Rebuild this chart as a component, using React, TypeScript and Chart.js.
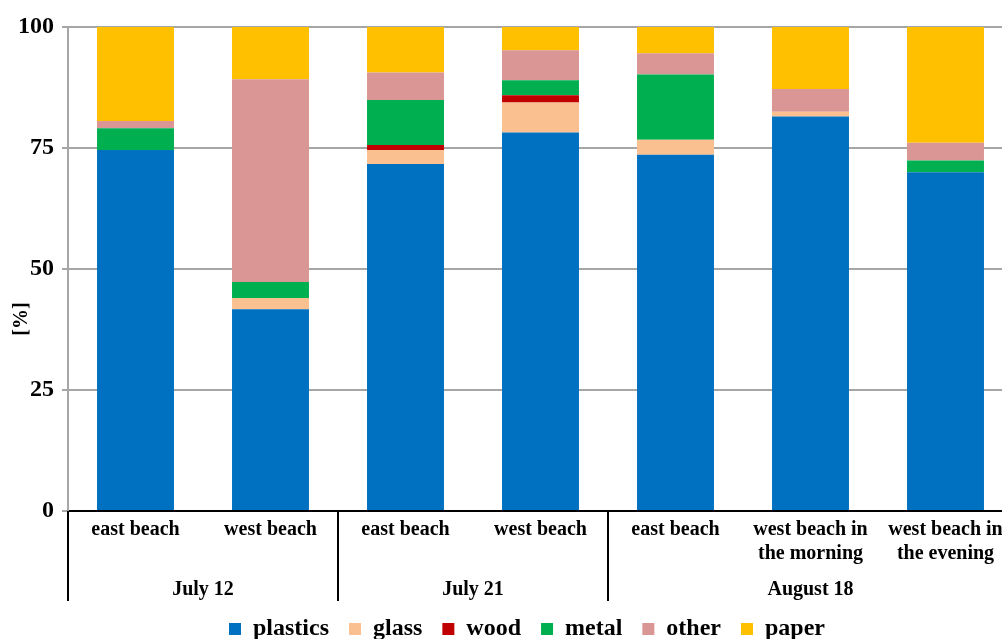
import React, { useEffect, useRef } from "react";
import { Chart, registerables } from "chart.js";
Chart.register(...registerables);

const categories: string[][] = [
  ["east beach"],
  ["west beach"],
  ["east beach"],
  ["west beach"],
  ["east beach"],
  ["west beach in", "the morning"],
  ["west beach in", "the evening"],
];
const groupLabels = ["July 12", "July 21", "August 18"];
const groupSizes = [2, 2, 3];
const seriesNames = ["plastics", "glass", "wood", "metal", "other", "paper"];
const plastics = [74.6, 41.7, 71.7, 78.2, 73.6, 81.5, 70.0];
const glass = [0, 2.3, 2.9, 6.2, 3.1, 1.0, 0];
const wood = [0, 0, 1.0, 1.5, 0, 0, 0];
const metal = [4.5, 3.3, 9.3, 3.1, 13.5, 0, 2.4];
const other = [1.5, 41.9, 5.7, 6.2, 4.4, 4.7, 3.7];
const paper = [19.4, 10.8, 9.4, 4.8, 5.4, 12.8, 23.9];
const yTicks = [0, 25, 50, 75, 100];
const yTitle = "[%]";

const colors = ["#0070C0", "#FAC090", "#C00000", "#00B050", "#D99694", "#FFC000"];
const FONT = '"Liberation Serif", "Times New Roman", serif';

const W = 1054;
const H = 651;

export default function App() {
  const ref = useRef<HTMLCanvasElement | null>(null);
  useEffect(() => {
    const canvas = ref.current;
    if (!canvas) return;
    const values = [plastics, glass, wood, metal, other, paper];
    const groupPlugin = {
      id: "groups",
      afterDraw(chart: any) {
        const ctx = chart.ctx;
        const xs = chart.scales.x;
        const area = chart.chartArea;
        const n = categories.length;
        const cw = (xs.right - xs.left) / n;
        ctx.save();
        ctx.strokeStyle = "#000";
        ctx.lineWidth = 2;
        let idx = 0;
        const edges: number[] = [xs.left];
        groupSizes.forEach((s) => {
          idx += s;
          edges.push(xs.left + idx * cw);
        });
        edges.forEach((ex) => {
          ctx.beginPath();
          ctx.moveTo(ex, area.bottom);
          ctx.lineTo(ex, 601);
          ctx.stroke();
        });
        ctx.fillStyle = "#000";
        ctx.font = `bold 20px ${FONT}`;
        ctx.textAlign = "center";
        ctx.textBaseline = "middle";
        groupLabels.forEach((g, i) => {
          ctx.fillText(g, (edges[i] + edges[i + 1]) / 2, 590);
        });
        ctx.translate(22, 319);
        ctx.rotate(-Math.PI / 2);
        ctx.fillText(yTitle, 0, 0);
        ctx.restore();
      },
    };
    const chart = new Chart(canvas, {
      type: "bar",
      data: {
        labels: categories,
        datasets: seriesNames.map((name, i) => ({
          label: name,
          data: values[i],
          backgroundColor: colors[i],
          borderWidth: 0,
          barPercentage: 0.57,
          categoryPercentage: 1,
        })),
      },
      options: {
        responsive: false,
        animation: false,
        devicePixelRatio: 1,
        layout: { padding: { top: 27, left: 0, right: 0, bottom: 0 } },
        plugins: {
          tooltip: { enabled: false },
          legend: {
            position: "bottom",
            labels: {
              color: "#000",
              font: { family: FONT, size: 24, weight: "bold" },
              boxWidth: 12,
              boxHeight: 12,
              padding: 20,
            },
          },
        },
        scales: {
          x: {
            stacked: true,
            grid: { display: false },
            border: { display: true, color: "#000", width: 2 },
            ticks: {
              color: "#000",
              font: { family: FONT, size: 20, weight: "bold", lineHeight: 1.2 },
              padding: -1,
              autoSkip: false,
              maxRotation: 0,
            },
            afterFit(s: any) {
              s.height = 86;
            },
          },
          y: {
            stacked: true,
            min: 0,
            max: 100,
            afterBuildTicks(s: any) {
              s.ticks = yTicks.map((v) => ({ value: v }));
            },
            grid: {
              color: (c: any) => (c.tick && c.tick.value === 0 ? "rgba(0,0,0,0)" : "#A6A6A6"),
              lineWidth: 2,
              tickLength: 6,
              tickColor: "#A6A6A6",
            },
            border: { display: true, color: "#A6A6A6", width: 2 },
            ticks: {
              color: "#000",
              font: { family: FONT, size: 24, weight: "bold" },
              padding: 8,
            },
            afterFit(s: any) {
              s.width = 68;
            },
          },
          yR: {
            type: "linear",
            position: "right",
            display: true,
            grid: { display: false },
            border: { display: false },
            ticks: { display: false },
            afterFit(s: any) {
              s.width = W - 1013;
            },
          },
        },
      } as any,
      plugins: [groupPlugin],
    });
    return () => chart.destroy();
  }, []);
  return (
    <div
      style={{
        position: "fixed",
        left: 0,
        top: 0,
        width: 1002,
        height: 639,
        overflow: "hidden",
        background: "#fff",
      }}
    >
      <canvas ref={ref} width={W} height={H} style={{ width: W, height: H, display: "block" }} />
    </div>
  );
}
